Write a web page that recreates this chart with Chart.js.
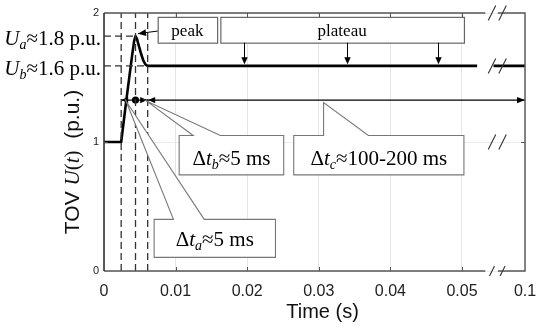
<!DOCTYPE html>
<html><head><meta charset="utf-8">
<script src="https://cdn.jsdelivr.net/npm/chart.js@4.4.0/dist/chart.umd.min.js"></script>
<style>html,body{margin:0;padding:0;background:#fff;}canvas{display:block;}</style>
</head><body>
<canvas id="c" width="537" height="331"></canvas>
<script>
// ---- axis with a break: real time 0..0.05 linear, 0.05..0.1 compressed ----
const BREAK_AT = 0.05, REAL_END = 0.1, AXIS_END = 0.0588;
function ax(t){ return t <= BREAK_AT ? t : BREAK_AT + (t - BREAK_AT) * (AXIS_END - BREAK_AT) / (REAL_END - BREAK_AT); }

// ---- data ----
const xTickValues = [0, 0.01, 0.02, 0.03, 0.04, 0.05, 0.1];
const xTickLabels = ['0', '0.01', '0.02', '0.03', '0.04', '0.05', '0.1'];
const yTickValues = [0, 1, 2];

const tovTime  = [0, 0.0024, 0.0032, 0.0039, 0.0042, 0.0044, 0.0046, 0.0049, 0.0052, 0.0055, 0.0058, 0.0061, 0.062, 0.068, 0.075, 0.1];
const tovValue = [1, 1,      1.36,   1.66,   1.78,   1.82,   1.80,   1.74,   1.68,   1.63,   1.60,   1.59,   1.59,  null,  1.59,  1.59];

const markerTimes = [0.0024, 0.0044, 0.0061];   // t1, t_peak, t2 (dashed lines)
const levelUa = 1.82, levelUb = 1.59;
const dtLevel = 1.325;                           // level of the Δt arrows
const dtEndTime = 0.1;
const plateauArrowTimes = [0.0196, 0.0339, 0.0467];

// ---- annotation layout (data coordinates) ----
const ann = {
  peakBox:    {x0: 0.0075, x1: 0.0158, y0: 1.97, y1: 1.77, text: 'peak'},
  plateauBox: {x0: 0.01625, x1: 0.05154, y0: 1.97, y1: 1.77, text: 'plateau'},
  peakArrow:  {from: [0.0075, 1.86], to: [0.00475, 1.84]},
  plateauTip: 1.603,
  dta: {x0: 0.0070, x1: 0.02395, y0: 0.40, y1: 0.106, p0: 0.0097, p1: 0.0140, tip: [0.00307, 1.318]},
  dtb: {x0: 0.0105, x1: 0.0251, y0: 1.05, y1: 0.745, p0: 0.01246, p1: 0.01625, tip: [0.0060, 1.315]},
  dtc: {x0: 0.0265, x1: 0.05154, y0: 1.05, y1: 0.745, p0: 0.03067, p1: 0.03693, tip: [0.03067, 1.305]},
  breakTimes: [0.0738, 0.0822],
  frameGap: [0.0685, 0.0785],
  breakLevels: [2, 1.59, 1, 0]
};

const serif = '"Liberation Serif", "Times New Roman", serif';
const sans = '"Liberation Sans", Arial, sans-serif';

function rich(ctx, parts, x, y, align){
  let w = 0;
  parts.forEach(p => { ctx.font = p.f; p.w = ctx.measureText(p.t).width; w += p.w; });
  let cx = align === 'center' ? x - w / 2 : (align === 'right' ? x - w : x);
  ctx.textAlign = 'left'; ctx.textBaseline = 'alphabetic';
  parts.forEach(p => { ctx.font = p.f; ctx.fillText(p.t, cx, y + (p.dy || 0)); cx += p.w; });
}
function head(ctx, tx, ty, ang, len, hw){
  ctx.save(); ctx.translate(tx, ty); ctx.rotate(ang);
  ctx.beginPath(); ctx.moveTo(0, 0); ctx.lineTo(-len, -hw); ctx.lineTo(-len, hw); ctx.closePath();
  ctx.fill(); ctx.restore();
}
function dtParts(sub, rest){
  return [
    {t: 'Δ', f: `21px ${serif}`},
    {t: 't', f: `italic 21px ${serif}`},
    {t: sub, f: `italic 14px ${serif}`, dy: 4},
    {t: rest, f: `21px ${serif}`}
  ];
}

const deco = {
  id: 'deco',
  afterDatasetsDraw(chart){
    const {ctx, scales: {x, y}} = chart;
    const X = t => x.getPixelForValue(ax(t)), Y = v => y.getPixelForValue(v);
    ctx.save();
    ctx.fillStyle = '#000';
    // Δt arrow heads
    const yd = Y(dtLevel);
    head(ctx, X(markerTimes[0]), yd, Math.PI, 7, 3.2);
    head(ctx, X(markerTimes[2]) - 0.5, yd, 0, 7, 3.2);
    head(ctx, X(markerTimes[2]) + 0.5, yd, Math.PI, 7, 3.2);
    head(ctx, X(dtEndTime), yd, 0, 8, 3.2);

    // simple boxes
    ctx.lineWidth = 1.2; ctx.strokeStyle = '#666';
    [ann.peakBox, ann.plateauBox].forEach(b => {
      const x0 = X(b.x0), x1 = X(b.x1), y0 = Y(b.y0), y1 = Y(b.y1);
      ctx.fillStyle = '#fff'; ctx.fillRect(x0, y0, x1 - x0, y1 - y0);
      ctx.strokeRect(x0 + 0.5, y0 + 0.5, x1 - x0, y1 - y0);
      ctx.fillStyle = '#000';
      ctx.font = `17px ${serif}`; ctx.textAlign = 'center'; ctx.textBaseline = 'alphabetic';
      ctx.fillText(b.text, (x0 + x1) / 2, (y0 + y1) / 2 + 6);
    });
    // peak arrow
    ctx.strokeStyle = '#000'; ctx.lineWidth = 1;
    const pa = ann.peakArrow;
    const fx = X(pa.from[0]), fy = Y(pa.from[1]), tx = X(pa.to[0]), ty = Y(pa.to[1]);
    ctx.beginPath(); ctx.moveTo(fx, fy); ctx.lineTo(tx, ty); ctx.stroke();
    ctx.fillStyle = '#000';
    head(ctx, tx, ty, Math.atan2(ty - fy, tx - fx), 8, 3.5);
    // plateau arrows
    const pb = Y(ann.plateauBox.y1);
    plateauArrowTimes.forEach(t => {
      const px = Math.round(X(t)) + 0.5, tip = Y(ann.plateauTip);
      ctx.beginPath(); ctx.moveTo(px, pb); ctx.lineTo(px, tip - 4); ctx.stroke();
      head(ctx, px, tip, Math.PI / 2, 7, 3.2);
    });

    // callouts
    [['dta', 'a', '≈5 ms', 8], ['dtb', 'b', '≈5 ms', 10], ['dtc', 'c', '≈100-200 ms', 10]].forEach(([k, sub, rest, off]) => {
      const c = ann[k];
      const x0 = X(c.x0), x1 = X(c.x1), y0 = Y(c.y0), y1 = Y(c.y1);
      const p0 = X(c.p0), p1 = X(c.p1), tX = X(c.tip[0]), tY = Y(c.tip[1]);
      ctx.beginPath();
      ctx.moveTo(x0, y0); ctx.lineTo(p0, y0); ctx.lineTo(tX, tY); ctx.lineTo(p1, y0);
      ctx.lineTo(x1, y0); ctx.lineTo(x1, y1); ctx.lineTo(x0, y1); ctx.closePath();
      ctx.fillStyle = '#fff'; ctx.fill();
      ctx.strokeStyle = '#777'; ctx.lineWidth = 1.1; ctx.stroke();
      ctx.fillStyle = '#000';
      rich(ctx, dtParts(sub, rest), (x0 + x1) / 2, (y0 + y1) / 2 + off, 'center');
    });
    ctx.restore();
  },
  afterDraw(chart){
    const {ctx, chartArea: a, scales: {x, y}} = chart;
    const X = t => x.getPixelForValue(ax(t)), Y = v => y.getPixelForValue(v);
    ctx.save();
    // frame with break gaps
    const g0 = X(ann.frameGap[0]), g1 = X(ann.frameGap[1]);
    ctx.strokeStyle = '#555'; ctx.lineWidth = 1.4;
    ctx.beginPath();
    ctx.moveTo(a.left, a.top); ctx.lineTo(g0, a.top);
    ctx.moveTo(g1, a.top); ctx.lineTo(a.right, a.top); ctx.lineTo(a.right, a.bottom); ctx.lineTo(g1, a.bottom);
    ctx.moveTo(g0, a.bottom); ctx.lineTo(a.left, a.bottom);
    ctx.stroke();
    ctx.strokeStyle = '#333'; ctx.lineWidth = 1.6;
    ctx.beginPath(); ctx.moveTo(a.left, a.top); ctx.lineTo(a.left, a.bottom); ctx.stroke();
    // inward ticks
    ctx.strokeStyle = '#555'; ctx.lineWidth = 1;
    ctx.beginPath();
    xTickValues.slice(1, -1).forEach(t => {
      const px = Math.round(X(t)) + 0.5;
      ctx.moveTo(px, a.bottom); ctx.lineTo(px, a.bottom - 4);
      ctx.moveTo(px, a.top); ctx.lineTo(px, a.top + 4);
    });
    yTickValues.slice(1, -1).forEach(v => {
      const py = Math.round(Y(v)) + 0.5;
      ctx.moveTo(a.left, py); ctx.lineTo(a.left + 4, py);
      ctx.moveTo(a.right, py); ctx.lineTo(a.right - 4, py);
    });
    ctx.stroke();
    // break marks
    ctx.strokeStyle = '#333'; ctx.lineWidth = 1.1;
    ctx.beginPath();
    ann.breakLevels.forEach((v, i) => {
      const py = Y(v), h = (i === ann.breakLevels.length - 1) ? 5 : 7.5;
      ann.breakTimes.forEach(t => {
        const px = X(t);
        ctx.moveTo(px - h * 0.5, py + h); ctx.lineTo(px + h * 0.5, py - h);
      });
    });
    ctx.stroke();

    // level labels
    ctx.fillStyle = '#000';
    rich(ctx, [{t: 'U', f: `italic 21px ${serif}`}, {t: 'a', f: `italic 14px ${serif}`, dy: 4}, {t: '≈1.8 p.u.', f: `21px ${serif}`}], a.left - 3, Y(levelUa) + 9, 'right');
    rich(ctx, [{t: 'U', f: `italic 21px ${serif}`}, {t: 'b', f: `italic 14px ${serif}`, dy: 4}, {t: '≈1.6 p.u.', f: `21px ${serif}`}], a.left - 3, Y(levelUb) + 9, 'right');

    // axis titles
    ctx.fillStyle = '#111';
    ctx.font = `20px ${sans}`; ctx.textAlign = 'center'; ctx.textBaseline = 'alphabetic';
    ctx.fillText('Time (s)', (a.left + a.right) / 2 + 8, 318);
    ctx.save();
    ctx.translate(79, (a.top + a.bottom) / 2 + 20);
    ctx.rotate(-Math.PI / 2);
    rich(ctx, [{t: 'TOV ', f: `21px ${sans}`}, {t: 'U', f: `italic 21px ${serif}`}, {t: '(', f: `21px ${serif}`}, {t: 't', f: `italic 21px ${serif}`}, {t: ')', f: `21px ${serif}`}, {t: '  (p.u.)', f: `21px ${sans}`}], 0, 0, 'center');
    ctx.restore();
    ctx.restore();
  }
};

const pts = (xs, ys) => xs.map((t, i) => ({x: ax(t), y: ys[i]}));
const vline = t => [{x: ax(t), y: 0}, {x: ax(t), y: 2}];
const dashStyle = {borderColor: '#333', borderWidth: 1.3, borderDash: [7, 4], pointRadius: 0, showLine: true, fill: false};

new Chart(document.getElementById('c'), {
  type: 'scatter',
  data: {
    datasets: [
      ...markerTimes.map(t => ({data: vline(t), ...dashStyle})),
      {data: [{x: 0, y: levelUa}, {x: ax(markerTimes[1]), y: levelUa}], ...dashStyle},
      {data: [{x: 0, y: levelUb}, {x: ax(markerTimes[2]), y: levelUb}], ...dashStyle},
      {data: [{x: ax(markerTimes[0]), y: dtLevel}, {x: ax(dtEndTime), y: dtLevel}], showLine: true, borderColor: '#000', borderWidth: 1.2, pointRadius: 0},
      {data: [{x: ax(markerTimes[1]), y: dtLevel}], pointRadius: 3.6, backgroundColor: '#000', borderColor: '#000', borderWidth: 0},
      {data: pts(tovTime, tovValue), showLine: true, spanGaps: false, borderColor: '#000', borderWidth: 2.6, pointRadius: 0, tension: 0, borderJoinStyle: 'round'}
    ]
  },
  options: {
    responsive: false, animation: false, devicePixelRatio: 1,
    layout: {padding: {top: 13, right: 12, left: 0, bottom: 0}},
    plugins: {legend: {display: false}, tooltip: {enabled: false}},
    scales: {
      x: {
        type: 'linear', min: 0, max: AXIS_END,
        afterBuildTicks: s => { s.ticks = xTickValues.map(t => ({value: ax(t)})); },
        afterFit: s => { s.height = 60; s.paddingLeft = 0; s.paddingRight = 0; },
        ticks: {callback: (v, i) => xTickLabels[i], font: {family: sans, size: 16}, color: '#222', padding: 11, maxRotation: 0, autoSkip: false},
        grid: {color: '#e6e6e6', lineWidth: 1, drawTicks: false},
        border: {display: false}
      },
      y: {
        type: 'linear', min: 0, max: 2,
        afterBuildTicks: s => { s.ticks = yTickValues.map(v => ({value: v})); },
        afterFit: s => { s.width = 104; s.paddingTop = 0; s.paddingBottom = 0; },
        ticks: {font: {family: sans, size: 11}, color: '#222', padding: 5},
        grid: {color: '#ececec', lineWidth: 1, drawTicks: false},
        border: {display: false}
      }
    }
  },
  plugins: [deco]
});
</script>
</body></html>
